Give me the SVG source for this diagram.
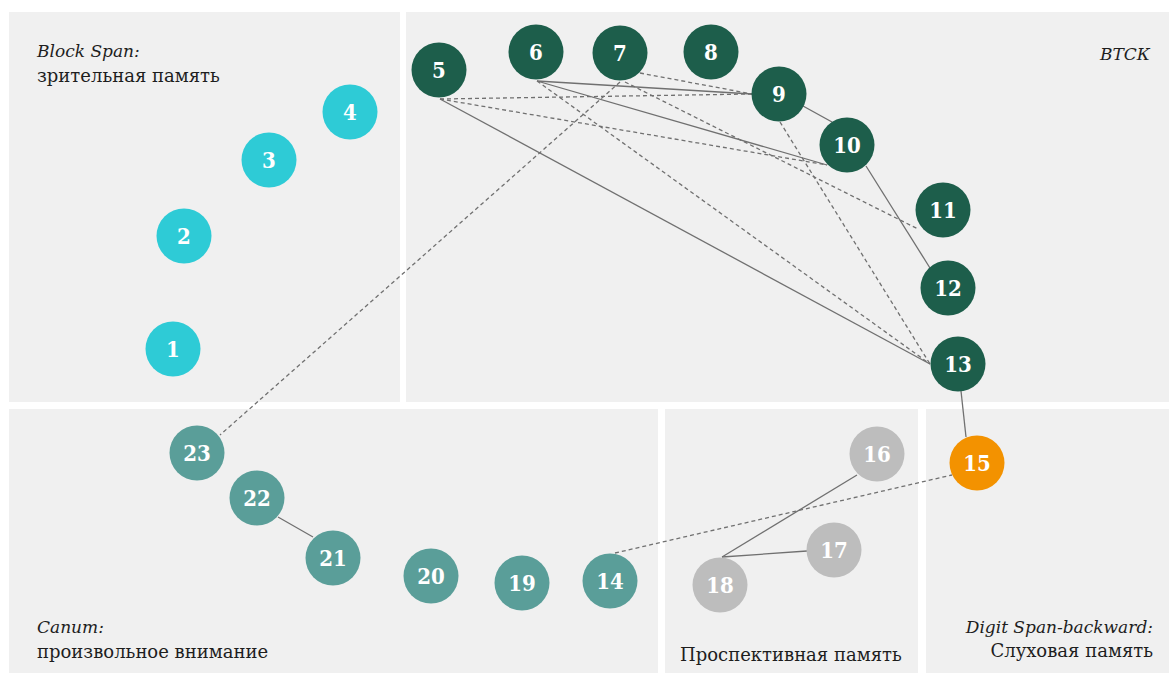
<svg xmlns="http://www.w3.org/2000/svg" width="1171" height="675" viewBox="0 0 1171 675">
<style>
.panel{fill:#f0f0f0}
.n circle{stroke:none}
.n text{font-family:"DejaVu Serif Condensed","DejaVu Serif","Liberation Serif",serif;font-stretch:condensed;font-weight:bold;font-size:22px;fill:#ffffff;text-anchor:middle}
.cy circle{fill:#2ecbd6}
.dg circle{fill:#1d5e4b}
.tl circle{fill:#5a9e99}
.gr circle{fill:#bdbdbd}
.or circle{fill:#f39200}
.e{stroke:#707070;stroke-width:1.3;fill:none}
.d{stroke-dasharray:4 3}
.lbl{font-family:"DejaVu Serif","Liberation Serif",serif;font-size:18px;fill:#1e1e1e}
.it{font-style:italic;font-size:17px}
</style>
<rect width="1171" height="675" fill="#ffffff"/>
<g id="panels">
<rect class="panel" x="9" y="12" width="391" height="390"/>
<rect class="panel" x="406" y="12" width="763" height="390"/>
<rect class="panel" x="9" y="409" width="649" height="264"/>
<rect class="panel" x="665" y="409" width="253" height="264"/>
<rect class="panel" x="926" y="409" width="243" height="264"/>
</g>
<g id="labels">
<text class="lbl it" x="37" y="57">Block Span:</text>
<text class="lbl" x="37" y="82">зрительная память</text>
<text class="lbl it" x="1150" y="60" text-anchor="end">ВТСК</text>
<text class="lbl it" x="37" y="633">Canum:</text>
<text class="lbl" x="37" y="658">произвольное внимание</text>
<text class="lbl" x="680" y="661">Проспективная память</text>
<text class="lbl it" x="1153" y="633" text-anchor="end">Digit Span-backward:</text>
<text class="lbl" x="1153" y="657" text-anchor="end">Слуховая память</text>
</g>
<g id="connectors">
<line class="e" x1="440" y1="99" x2="930" y2="364"/>
<line class="e d" x1="440" y1="99" x2="752" y2="94"/>
<line class="e d" x1="440" y1="99" x2="827" y2="165"/>
<line class="e" x1="537" y1="81" x2="752" y2="94"/>
<line class="e" x1="537" y1="81" x2="827" y2="165"/>
<line class="e d" x1="537" y1="81" x2="930" y2="364"/>
<line class="e d" x1="620" y1="82" x2="220" y2="435"/>
<line class="e d" x1="640" y1="73" x2="752" y2="94"/>
<line class="e d" x1="625" y1="82" x2="918" y2="229"/>
<line class="e" x1="803" y1="106" x2="832" y2="122"/>
<line class="e d" x1="780" y1="122" x2="930" y2="364"/>
<line class="e" x1="866" y1="166" x2="930" y2="268"/>
<line class="e" x1="961" y1="391" x2="966" y2="437"/>
<line class="e d" x1="615" y1="553" x2="952" y2="475"/>
<line class="e" x1="722" y1="557" x2="857" y2="475"/>
<line class="e" x1="722" y1="557" x2="807" y2="551"/>
<line class="e" x1="278" y1="517" x2="313" y2="537"/>
</g>
<g id="node1" class="n cy"><circle cx="173" cy="349" r="27.5"/><text x="173" y="357">1</text></g>
<g id="node2" class="n cy"><circle cx="184" cy="236" r="27.5"/><text x="184" y="244">2</text></g>
<g id="node3" class="n cy"><circle cx="269" cy="160" r="27.5"/><text x="269" y="168">3</text></g>
<g id="node4" class="n cy"><circle cx="350" cy="112" r="27.5"/><text x="350" y="120">4</text></g>
<g id="node5" class="n dg"><circle cx="439" cy="70" r="27.5"/><text x="439" y="78">5</text></g>
<g id="node6" class="n dg"><circle cx="536" cy="52" r="27.5"/><text x="536" y="60">6</text></g>
<g id="node7" class="n dg"><circle cx="620" cy="53" r="27.5"/><text x="620" y="61">7</text></g>
<g id="node8" class="n dg"><circle cx="711" cy="52" r="27.5"/><text x="711" y="60">8</text></g>
<g id="node9" class="n dg"><circle cx="779" cy="94" r="27.5"/><text x="779" y="102">9</text></g>
<g id="node10" class="n dg"><circle cx="847" cy="145" r="27.5"/><text x="847" y="153">10</text></g>
<g id="node11" class="n dg"><circle cx="943" cy="210" r="27.5"/><text x="943" y="218">11</text></g>
<g id="node12" class="n dg"><circle cx="948" cy="288" r="27.5"/><text x="948" y="296">12</text></g>
<g id="node13" class="n dg"><circle cx="958" cy="364" r="27.5"/><text x="958" y="372">13</text></g>
<g id="node14" class="n tl"><circle cx="610" cy="581" r="27.5"/><text x="610" y="589">14</text></g>
<g id="node15" class="n or"><circle cx="977" cy="463" r="27.5"/><text x="977" y="471">15</text></g>
<g id="node16" class="n gr"><circle cx="877" cy="454" r="27.5"/><text x="877" y="462">16</text></g>
<g id="node17" class="n gr"><circle cx="834" cy="550" r="27.5"/><text x="834" y="558">17</text></g>
<g id="node18" class="n gr"><circle cx="720" cy="585" r="27.5"/><text x="720" y="593">18</text></g>
<g id="node19" class="n tl"><circle cx="522" cy="583" r="27.5"/><text x="522" y="591">19</text></g>
<g id="node20" class="n tl"><circle cx="431" cy="576" r="27.5"/><text x="431" y="584">20</text></g>
<g id="node21" class="n tl"><circle cx="333" cy="558" r="27.5"/><text x="333" y="566">21</text></g>
<g id="node22" class="n tl"><circle cx="257" cy="498" r="27.5"/><text x="257" y="506">22</text></g>
<g id="node23" class="n tl"><circle cx="197" cy="453" r="27.5"/><text x="197" y="461">23</text></g>
</svg>
